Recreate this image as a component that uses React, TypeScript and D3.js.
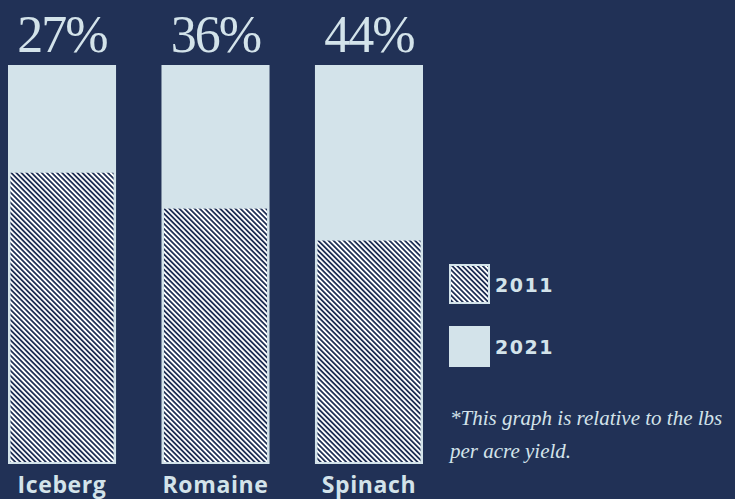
import React, { useRef, useEffect } from 'react';
import * as d3 from 'd3';

const categories = ['Iceberg', 'Romaine', 'Spinach'];
const values2011 = [73, 64, 56];
const values2021 = [100, 100, 100];
const growthLabels = ['27%', '36%', '44%'];
const legendLabels = ['2011', '2021'];
const footnoteLines = ['*This graph is relative to the lbs', 'per acre yield.'];

const BG = '#213156';
const LIGHT = '#d3e3ea';

const App: React.FC = () => {
  const svgRef = useRef<SVGSVGElement>(null);

  useEffect(() => {
    if (!svgRef.current) return;
    const svg = d3.select(svgRef.current);
    svg.selectAll('*').remove();

    const width = 735;
    const height = 499;

    // hatch pattern
    const defs = svg.append('defs');
    const pat = defs.append('pattern')
      .attr('id', 'hatch')
      .attr('patternUnits', 'userSpaceOnUse')
      .attr('width', 3.6)
      .attr('height', 3.6)
      .attr('patternTransform', 'rotate(-45)');
    pat.append('rect').attr('width', 3.6).attr('height', 3.6).attr('fill', '#ffffff');
    pat.append('rect').attr('width', 1.8).attr('height', 3.6).attr('fill', BG);

    svg.append('rect').attr('width', width).attr('height', height).attr('fill', BG);

    const x = d3.scaleBand<string>()
      .domain(categories)
      .range([8, 423])
      .paddingInner(0.296)
      .paddingOuter(0);

    const y = d3.scaleLinear().domain([0, 100]).range([464, 65]);

    const g = svg.append('g');

    // 2021 bars (full)
    g.selectAll('rect.b2021')
      .data(categories)
      .join('rect')
      .attr('class', 'b2021')
      .attr('x', d => x(d)!)
      .attr('width', x.bandwidth())
      .attr('y', (_, i) => y(values2021[i]))
      .attr('height', (_, i) => y(0) - y(values2021[i]))
      .attr('fill', LIGHT);

    // 2011 hatched bars
    g.selectAll('rect.b2011')
      .data(categories)
      .join('rect')
      .attr('class', 'b2011')
      .attr('x', d => x(d)! + 2.5)
      .attr('width', x.bandwidth() - 5)
      .attr('y', (_, i) => y(values2011[i]))
      .attr('height', (_, i) => y(0) - y(values2011[i]) - 2)
      .attr('fill', 'url(#hatch)');

    // growth labels
    g.selectAll('text.pct')
      .data(categories)
      .join('text')
      .attr('class', 'pct')
      .attr('x', d => x(d)! + x.bandwidth() / 2)
      .attr('y', 52)
      .attr('text-anchor', 'middle')
      .attr('fill', LIGHT)
      .style('font-family', '"Liberation Serif", serif')
      .style('font-size', '52px')
      .style('letter-spacing', '-2px')
      .text((_, i) => growthLabels[i]);

    // category labels
    g.selectAll('text.cat')
      .data(categories)
      .join('text')
      .attr('class', 'cat')
      .attr('x', d => x(d)! + x.bandwidth() / 2)
      .attr('y', 493)
      .attr('text-anchor', 'middle')
      .attr('fill', LIGHT)
      .style('font-family', '"Open Sans", sans-serif')
      .style('font-weight', 'bold')
      .style('font-size', '23px')
      .style('letter-spacing', '0.6px')
      .text(d => d);

    // legend
    const legend = svg.append('g').attr('transform', 'translate(449, 264)');
    legendLabels.forEach((label, i) => {
      const item = legend.append('g').attr('transform', `translate(0, ${i * 62})`);
      if (i === 0) {
        item.append('rect')
          .attr('width', 41).attr('height', 40)
          .attr('fill', LIGHT);
        item.append('rect')
          .attr('x', 2).attr('y', 2)
          .attr('width', 37).attr('height', 36)
          .attr('fill', 'url(#hatch)');
      } else {
        item.append('rect')
          .attr('width', 41).attr('height', 41)
          .attr('fill', LIGHT);
      }
      item.append('text')
        .attr('x', 46)
        .attr('y', 28)
        .attr('fill', LIGHT)
        .style('font-family', '"DejaVu Sans", sans-serif')
        .style('font-weight', 'bold')
        .style('font-size', '19px')
        .style('letter-spacing', '1.5px')
        .text(label);
    });

    // footnote
    const note = svg.append('text')
      .attr('x', 450)
      .attr('y', 425)
      .attr('fill', LIGHT)
      .style('font-family', '"Liberation Serif", serif')
      .style('font-style', 'italic')
      .style('font-size', '21px');
    footnoteLines.forEach((line, i) => {
      note.append('tspan').attr('x', 450).attr('dy', i === 0 ? 0 : 33).text(line);
    });
  }, []);

  return (
    <div style={{ position: 'absolute', left: 0, top: 0 }}>
      <svg ref={svgRef} width={735} height={499} style={{ display: 'block' }}></svg>
    </div>
  );
};

export default App;
